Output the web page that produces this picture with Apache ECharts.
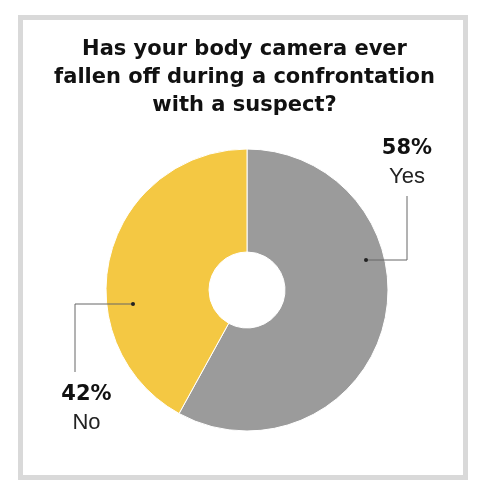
<!doctype html>
<html>

<head>
	<meta charset="utf-8">
	<title></title>
	<script type="text/javascript" src="https://cdn.jsdelivr.net/npm/echarts@6/dist/echarts.min.js"></script>
	<style>
		html, body { margin: 0; padding: 0; background: #fff; }
	</style>
</head>

<body>
	<div id="main" style="width: 489px;height:500px;"></div>
	<script type="text/javascript">
		// data
		var categories = ['Yes', 'No'];
		var percents = [58, 42];
		var colors = ['#9b9b9b', '#f4c843'];

		// where the callouts sit, as offsets from the pie centre
		var cx = 247, cy = 290;
		var callouts = [
			{ dot: [119, -30], corner: [160, -30], end: [160, -94], text: [160, -127] },
			{ dot: [-114, 14], corner: [-172, 14], end: [-172, 82], text: [-160.5, 119] }
		];

		var myChart = echarts.init(document.getElementById('main'));

		var arr = [];
		categories.forEach((name, i) => {
			arr.push({
				name: name,
				value: percents[i],
				itemStyle: { color: colors[i] }
			})
		});

		// leader lines + dots drawn on top of the slices
		var leaders = [];
		callouts.forEach(c => {
			leaders.push({
				type: 'polyline',
				z: 100,
				shape: {
					points: [
						[cx + c.dot[0], cy + c.dot[1]],
						[cx + c.corner[0], cy + c.corner[1]],
						[cx + c.end[0], cy + c.end[1]]
					]
				},
				style: { fill: 'none', stroke: '#666', lineWidth: 1 }
			});
			leaders.push({
				type: 'circle',
				z: 101,
				shape: { cx: cx + c.dot[0], cy: cy + c.dot[1], r: 2 },
				style: { fill: '#222' }
			});
		});

		option = {
			animation: false,
			title: {
				text: 'Has your body camera ever\nfallen off during a confrontation\nwith a suspect?',
				left: 'center',
				top: 31,
				textStyle: {
					fontFamily: 'DejaVu Sans',
					fontWeight: 'bold',
					fontSize: 21,
					lineHeight: 28,
					color: '#111'
				}
			},
			graphic: [{
				type: 'rect',
				shape: { x: 20.5, y: 17.5, width: 445, height: 460 },
				style: { fill: 'none', stroke: '#d9d9d9', lineWidth: 5 }
			}].concat(leaders),
			series: [
				{
					type: 'pie',
					center: [cx, cy],
					radius: [38, 141],
					startAngle: 90,
					clockwise: true,
					data: arr,
					itemStyle: {
						borderColor: '#fff',
						borderWidth: 1
					},
					emphasis: { disabled: true },
					label: {
						show: true,
						position: 'outside',
						alignTo: 'none',
						overflow: 'none',
						formatter: p => '{p|' + p.value + '%}\n{n|' + p.name + '}',
						rich: {
							p: {
								fontFamily: 'DejaVu Sans',
								fontWeight: 'bold',
								fontSize: 21,
								lineHeight: 28,
								color: '#111',
								align: 'center'
							},
							n: {
								fontFamily: 'Liberation Sans',
								fontSize: 22,
								lineHeight: 28,
								color: '#222',
								align: 'center'
							}
						}
					},
					labelLine: { show: false },
					labelLayout: params => {
						var c = callouts[params.dataIndex];
						return {
							x: cx + c.text[0],
							y: cy + c.text[1],
							width: 80,
							align: 'center',
							verticalAlign: 'middle'
						};
					}
				}
			]
		};

		myChart.setOption(option);
	</script>
</body>

</html>
